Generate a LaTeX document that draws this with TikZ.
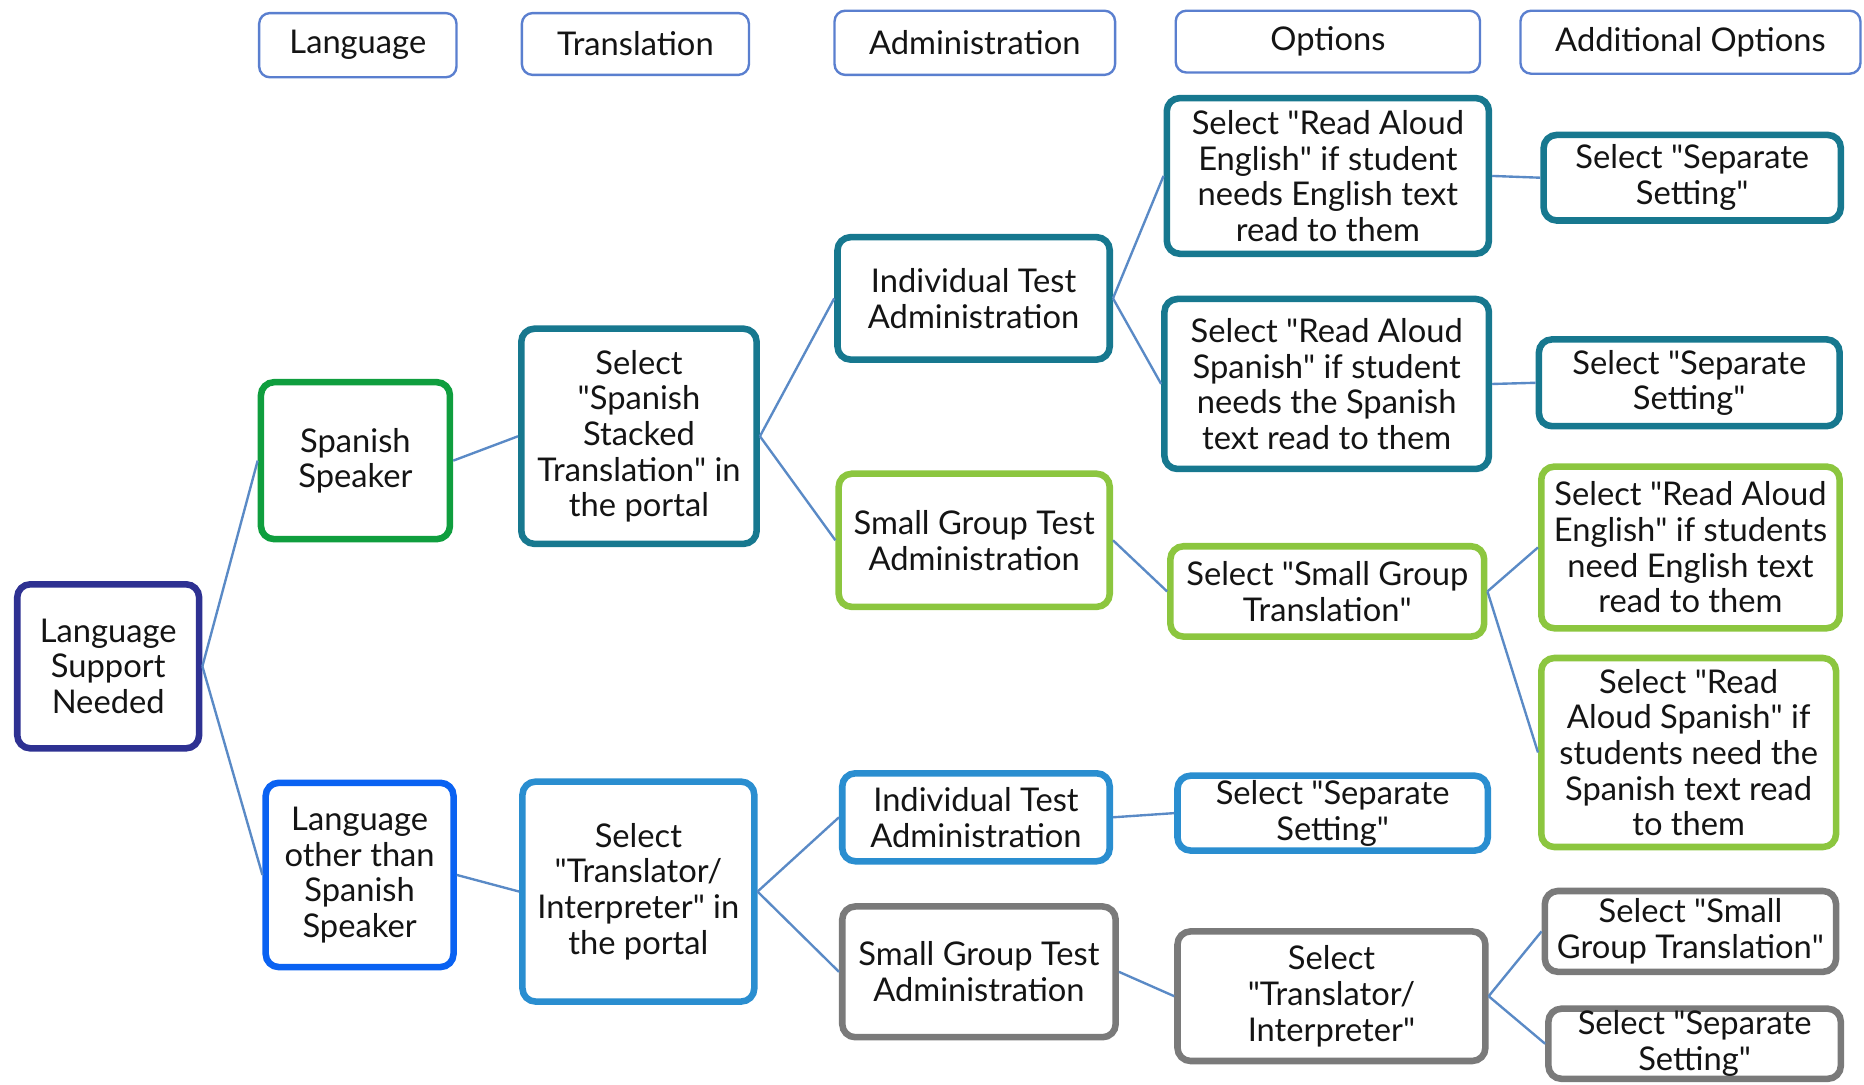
\documentclass[tikz,border=0pt]{standalone}
\usepackage{fontspec}
\setmainfont{Lato}
\newcommand{\dq}{\textquotedbl}
\definecolor{hdr}{HTML}{5A7FCF}
\definecolor{navy}{HTML}{2E3192}
\definecolor{grn}{HTML}{0F9E3E}
\definecolor{blu}{HTML}{0A62F2}
\definecolor{teal}{HTML}{17788F}
\definecolor{lblu}{HTML}{2A8ED0}
\definecolor{lgrn}{HTML}{8CC63F}
\definecolor{gry}{HTML}{7A7A7A}
\definecolor{conn}{HTML}{5A8AC6}
\begin{document}
\begin{tikzpicture}[x=1pt,y=-1pt,
  base/.style={rectangle,rounded corners=11pt,fill=white,align=center,inner sep=0pt,
    font=\fontsize{27.5}{30}\selectfont,text=black!92},
  hd/.style={base,draw=hdr,line width=2pt,rounded corners=9pt},
  mb/.style={base,draw=#1,line width=5.5pt},
  cn/.style={draw=conn,line width=2pt}]
\useasboundingbox (0,0) rectangle (1568,912);
% headers
\node[hd,minimum width=166pt,minimum height=54pt] (hLang) at (301,38) {Language};
\node[hd,minimum width=191pt,minimum height=52pt] (hTrans) at (534.5,37) {Translation};
\node[hd,minimum width=236pt,minimum height=54pt] (hAdm) at (820,36) {Administration};
\node[hd,minimum width=256pt,minimum height=52pt] (hOpt) at (1117,35) {Options};
\node[hd,minimum width=286pt,minimum height=53pt] (hAdd) at (1422,35.5) {Additional Options};
% level 0-1
\node[mb=navy,minimum width=153pt,minimum height=138pt] (lsn) at (91,560.5) {Language\\Support\\Needed};
\node[mb=grn,minimum width=159pt,minimum height=132pt] (ss) at (299,387.5) {Spanish\\Speaker};
\node[mb=blu,minimum width=158pt,minimum height=155pt] (los) at (302.5,736) {Language\\other than\\Spanish\\Speaker};
% translation
\node[mb=teal,minimum width=198pt,minimum height=181pt] (sst) at (537.5,367) {Select\\\dq Spanish\\Stacked\\Translation\dq{} in\\the portal};
\node[mb=lblu,minimum width=195pt,minimum height=185pt] (sti) at (537,750) {Select\\\dq Translator/\\Interpreter\dq{} in\\the portal};
% administration
\node[mb=teal,minimum width=229pt,minimum height=103pt] (ita1) at (819,251) {Individual Test\\Administration};
\node[mb=lgrn,minimum width=228pt,minimum height=112pt] (sga1) at (819.5,454.5) {Small Group Test\\Administration};
\node[mb=lblu,minimum width=225pt,minimum height=74pt] (ita2) at (821,687.5) {Individual Test\\Administration};
\node[mb=gry,minimum width=230pt,minimum height=110pt] (sga2) at (823.5,817.5) {Small Group Test\\Administration};
% options
\node[mb=teal,minimum width=271pt,minimum height=131pt] (rae) at (1117,148) {Select \dq Read Aloud\\English\dq{} if student\\needs English text\\read to them};
\node[mb=teal,minimum width=273pt,minimum height=143pt] (ras) at (1116,323) {Select \dq Read Aloud\\Spanish\dq{} if student\\needs the Spanish\\text read to them};
\node[mb=lgrn,minimum width=264pt,minimum height=76pt] (ssgt) at (1116.5,497.5) {Select \dq Small Group\\Translation\dq};
\node[mb=lblu,minimum width=261pt,minimum height=63pt] (sepb) at (1121,684) {Select \dq Separate\\Setting\dq};
\node[mb=gry,minimum width=259pt,minimum height=109pt] (sti2) at (1120,838) {Select\\\dq Translator/\\Interpreter\dq};
% additional options
\node[mb=teal,minimum width=250pt,minimum height=72pt] (sep1) at (1423.5,149.5) {Select \dq Separate\\Setting\dq};
\node[mb=teal,minimum width=253pt,minimum height=73pt] (sep2) at (1421,322) {Select \dq Separate\\Setting\dq};
\node[mb=lgrn,minimum width=251pt,minimum height=136pt] (rae2) at (1422,460.5) {Select \dq Read Aloud\\English\dq{} if students\\need English text\\read to them};
\node[mb=lgrn,minimum width=248pt,minimum height=159pt] (ras2) at (1420.5,633) {Select \dq Read\\Aloud Spanish\dq{} if\\students need the\\Spanish text read\\to them};
\node[mb=gry,minimum width=245pt,minimum height=68pt] (ssgt2) at (1422,783.5) {Select \dq Small\\Group Translation\dq};
\node[mb=gry,minimum width=246pt,minimum height=59pt] (sep3) at (1425.5,878) {Select \dq Separate\\Setting\dq};
% connectors
\draw[cn] (lsn.east) -- (ss.west);
\draw[cn] (lsn.east) -- (los.west);
\draw[cn] (ss.east) -- (sst.west);
\draw[cn] (los.east) -- (sti.west);
\draw[cn] (sst.east) -- (ita1.west);
\draw[cn] (sst.east) -- (sga1.west);
\draw[cn] (sti.east) -- (ita2.west);
\draw[cn] (sti.east) -- (sga2.west);
\draw[cn] (ita1.east) -- (rae.west);
\draw[cn] (ita1.east) -- (ras.west);
\draw[cn] (sga1.east) -- (ssgt.west);
\draw[cn] (ita2.east) -- (sepb.west);
\draw[cn] (sga2.east) -- (sti2.west);
\draw[cn] (rae.east) -- (sep1.west);
\draw[cn] (ras.east) -- (sep2.west);
\draw[cn] (ssgt.east) -- (rae2.west);
\draw[cn] (ssgt.east) -- (ras2.west);
\draw[cn] (sti2.east) -- (ssgt2.west);
\draw[cn] (sti2.east) -- (sep3.west);
\end{tikzpicture}
\end{document}
